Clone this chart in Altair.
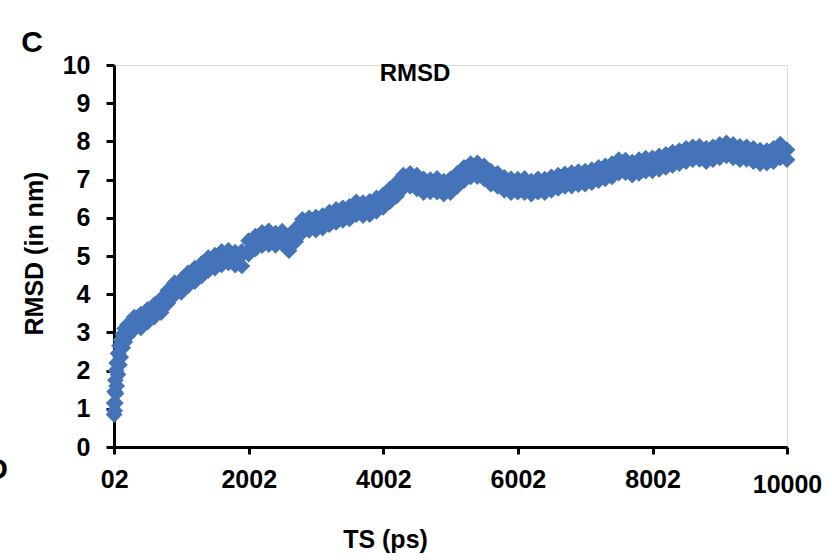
import altair as alt
import pandas as pd

# time steps (ps)
ts = [2, 10, 20, 30, 40, 60, 80, 100, 130, 160, 200,
      300, 400, 500, 600, 700, 800, 900, 1000, 1100, 1200, 1300, 1400, 1500, 1600, 1700, 1800, 1900,
      2000, 2100, 2200, 2300, 2400, 2500, 2600, 2700, 2800, 2900, 3000, 3100, 3200, 3300, 3400, 3500,
      3600, 3700, 3800, 3900, 4000, 4100, 4200, 4300, 4400, 4500, 4600, 4700, 4800, 4900, 5000, 5100,
      5200, 5300, 5400, 5500, 5600, 5700, 5800, 5900, 6000, 6100, 6200, 6300, 6400, 6500, 6600, 6700,
      6800, 6900, 7000, 7100, 7200, 7300, 7400, 7500, 7600, 7700, 7800, 7900, 8000, 8100, 8200, 8300,
      8400, 8500, 8600, 8700, 8800, 8900, 9000, 9100, 9200, 9300, 9400, 9500, 9600, 9700, 9800, 9900, 10000]

# lower envelope of the RMSD trace (nm)
rmsd_lo = [0.85, 0.95, 1.15, 1.40, 1.60, 1.90, 2.15, 2.35, 2.60, 2.75, 2.90,
           3.08, 3.12, 3.27, 3.40, 3.52, 3.76, 3.98, 4.05, 4.22, 4.33, 4.47, 4.62, 4.68, 4.77, 4.82, 4.76, 4.74,
           5.05, 5.18, 5.27, 5.30, 5.28, 5.32, 5.14, 5.38, 5.62, 5.67, 5.68, 5.73, 5.82, 5.88, 5.93, 5.97,
           6.08, 6.06, 6.08, 6.17, 6.27, 6.42, 6.57, 6.78, 6.82, 6.76, 6.66, 6.68, 6.67, 6.62, 6.66, 6.82,
           6.97, 7.07, 7.08, 7.02, 6.88, 6.82, 6.72, 6.66, 6.67, 6.66, 6.62, 6.67, 6.66, 6.72, 6.77, 6.82,
           6.83, 6.87, 6.88, 6.92, 6.97, 7.02, 7.07, 7.17, 7.18, 7.12, 7.16, 7.22, 7.23, 7.27, 7.32, 7.37,
           7.42, 7.47, 7.52, 7.53, 7.47, 7.52, 7.57, 7.62, 7.57, 7.52, 7.53, 7.47, 7.42, 7.43, 7.47, 7.57, 7.52]

# upper envelope of the RMSD trace (nm)
rmsd_hi = [1.15, 1.45, 1.75, 2.00, 2.20, 2.45, 2.65, 2.80, 2.95, 3.10, 3.20,
           3.40, 3.48, 3.60, 3.73, 3.88, 4.10, 4.30, 4.38, 4.56, 4.68, 4.80, 4.96, 5.02, 5.12, 5.15, 5.10, 5.12,
           5.40, 5.52, 5.62, 5.66, 5.60, 5.65, 5.52, 5.72, 5.96, 6.00, 6.02, 6.06, 6.15, 6.22, 6.26, 6.30,
           6.42, 6.40, 6.43, 6.52, 6.60, 6.76, 6.92, 7.12, 7.16, 7.12, 7.02, 7.00, 7.03, 6.96, 7.02, 7.16,
           7.32, 7.42, 7.44, 7.36, 7.22, 7.16, 7.06, 7.02, 7.01, 7.03, 6.96, 7.02, 7.01, 7.07, 7.12, 7.15,
           7.18, 7.21, 7.22, 7.26, 7.32, 7.36, 7.42, 7.52, 7.51, 7.46, 7.52, 7.56, 7.57, 7.62, 7.66, 7.72,
           7.76, 7.82, 7.86, 7.87, 7.82, 7.86, 7.92, 7.96, 7.92, 7.87, 7.86, 7.82, 7.77, 7.76, 7.82, 7.93, 7.78]

x_ticks = [2, 2002, 4002, 6002, 8002, 10000]
y_ticks = [0, 1, 2, 3, 4, 5, 6, 7, 8, 9, 10]

df = pd.DataFrame({"t": ts, "lo": rmsd_lo, "hi": rmsd_hi})

BLUE = "#4473B9"
FONT = "Liberation Sans"
FS = 25

x_axis = alt.Axis(
    title="TS (ps)",
    values=x_ticks,
    labelExpr="datum.value == 2 ? '02' : format(datum.value, 'd')",
    labelFlush=False,
    labelOverlap=False,
    grid=False,
    domainColor="black", domainWidth=3,
    tickColor="black", tickWidth=3, tickSize=7,
    labelFont=FONT, labelFontSize=FS, labelFontWeight="bold", labelColor="black",
    labelPadding={"condition": {"test": "datum.value == 10000", "value": 18}, "value": 13},
    titleFont=FONT, titleFontSize=FS, titleFontWeight="bold", titleColor="black",
    titleX=271, titleY=92, titleBaseline="middle", titleAlign="center",
)
x_scale = alt.Scale(domain=[0, 10000], nice=False)

y_axis = alt.Axis(
    title="RMSD (in nm)",
    values=y_ticks,
    tickCount=11,
    labelOverlap=False,
    labelFlush=False,
    grid=False,
    domainColor="black", domainWidth=3,
    tickColor="black", tickWidth=3, tickSize=8,
    labelFont=FONT, labelFontSize=FS, labelFontWeight="bold", labelColor="black",
    labelPadding=16,
    titleFont=FONT, titleFontSize=FS, titleFontWeight="bold", titleColor="black",
    titleAngle=-90, titleX=-80, titleY=188, titleBaseline="middle", titleAlign="center",
)
y_scale = alt.Scale(domain=[0, 10], nice=False)

base = alt.Chart(df)

band = base.mark_area(color=BLUE, opacity=1).encode(
    x=alt.X("t:Q", scale=x_scale, axis=x_axis),
    y=alt.Y("lo:Q", scale=y_scale, axis=y_axis),
    y2="hi:Q",
)

pts_lo = base.mark_point(shape="diamond", filled=True, size=280, color=BLUE, opacity=1).encode(
    x=alt.X("t:Q", scale=x_scale, axis=x_axis),
    y=alt.Y("lo:Q", scale=y_scale, axis=y_axis),
)
pts_hi = base.mark_point(shape="diamond", filled=True, size=280, color=BLUE, opacity=1).encode(
    x=alt.X("t:Q", scale=x_scale, axis=x_axis),
    y=alt.Y("hi:Q", scale=y_scale, axis=y_axis),
)

one = alt.Data(values=[{}])
title_txt = alt.Chart(one).mark_text(
    font=FONT, fontSize=24, fontWeight="bold", color="black", align="center", baseline="middle"
).encode(x=alt.value(301), y=alt.value(9), text=alt.value("RMSD"))

label_c = alt.Chart(one).mark_text(
    font=FONT, fontSize=30, fontWeight="bold", color="black", align="center", baseline="middle"
).encode(x=alt.value(-82), y=alt.value(-22), text=alt.value("C"))

label_d = alt.Chart(one).mark_text(
    font=FONT, fontSize=30, fontWeight="bold", color="black", align="center", baseline="middle"
).encode(x=alt.value(-117), y=alt.value(405), text=alt.value("D"))

chart = alt.layer(band, pts_lo, pts_hi, title_txt, label_c, label_d).properties(
    width=673,
    height=382,
    autosize=alt.AutoSizeParams(type="none"),
    padding={"left": 114, "top": 65, "right": 45, "bottom": 113},
).configure_view(stroke=None).configure(background="white")

chart.save("out.html", embed_options={"renderer": "svg", "actions": False})
